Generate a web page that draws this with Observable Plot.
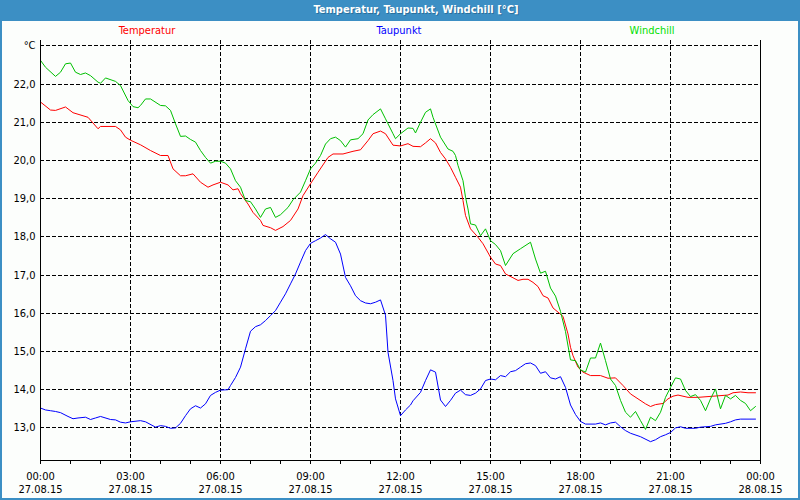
<!DOCTYPE html>
<html>
<head>
<meta charset="utf-8">
<script src="https://cdn.jsdelivr.net/npm/d3@7"></script>
<script src="https://cdn.jsdelivr.net/npm/@observablehq/plot@0.6"></script>
<style>
  html, body { margin: 0; padding: 0; background: #3c8fc4; }
  #frame { position: relative; width: 800px; height: 500px; background: #3c8fc4; overflow: hidden; font-family: "DejaVu Sans", Verdana, sans-serif; }
  #panel { position: absolute; left: 2px; top: 21px; width: 796px; height: 477px; background: #fcfefc; }
  #title { position: absolute; top: 3px; left: 416px; transform: translateX(-50%); color: #fff; font-weight: bold; font-size: 11px; font-stretch: condensed; white-space: nowrap; text-shadow: 1px 1px 0 #2a6f9c; }
  .leg { position: absolute; top: 24px; transform: translateX(-50%); font-size: 11px; font-stretch: condensed; white-space: nowrap; }
  #chart { position: absolute; left: 0; top: 0; }
  #chart svg text { font-stretch: condensed; }
</style>
</head>
<body>
<div id="frame">
  <div id="panel"></div>
  <div id="title"></div>
  <div id="legend"></div>
  <div id="chart"></div>
</div>
<script>
// ---- Data (time in minutes since 27.08.15 00:00, values in °C) ----
const titleText = "Temperatur, Taupunkt, Windchill [°C]";
const seriesNames = ["Temperatur", "Taupunkt", "Windchill"];
const seriesColors = ["#ff0000", "#0000ff", "#00c000"];
const legendColors = ["#ff0000", "#0000ff", "#00e000"];

const temperatur = [
  [0,21.53],[20,21.32],[30,21.31],[50,21.40],[65,21.25],[95,21.13],[115,20.83],[120,20.89],[150,20.89],[160,20.80],
  [170,20.61],[180,20.53],[200,20.41],[220,20.26],[240,20.13],[255,20.13],[265,19.78],[280,19.60],[290,19.60],[305,19.65],
  [320,19.43],[335,19.30],[345,19.36],[360,19.43],[375,19.36],[385,19.23],[395,19.26],[400,19.13],[415,18.86],[425,18.64],
  [440,18.43],[445,18.30],[460,18.24],[470,18.17],[485,18.27],[500,18.43],[515,18.73],[525,19.08],[540,19.39],[555,19.69],
  [575,20.08],[585,20.17],[605,20.17],[625,20.24],[640,20.28],[655,20.52],[665,20.70],[680,20.77],[690,20.70],[705,20.40],
  [720,20.38],[735,20.44],[745,20.37],[760,20.36],[770,20.46],[780,20.57],[790,20.46],[800,20.21],[810,20.04],[820,19.82],
  [830,19.56],[840,19.30],[845,18.95],[850,18.56],[860,18.21],[875,17.99],[885,17.82],[900,17.47],[910,17.29],[920,17.25],
  [930,17.03],[945,16.93],[955,16.86],[965,16.89],[975,16.89],[985,16.81],[995,16.70],[1005,16.46],[1015,16.40],[1025,16.14],
  [1035,16.03],[1045,15.92],[1055,15.46],[1060,15.11],[1065,14.89],[1075,14.59],[1085,14.46],[1100,14.37],[1120,14.37],[1135,14.30],
  [1150,14.31],[1165,14.11],[1180,13.89],[1195,13.76],[1210,13.63],[1220,13.56],[1230,13.61],[1245,13.64],[1255,13.76],[1265,13.83],
  [1275,13.86],[1295,13.80],[1315,13.80],[1335,13.82],[1355,13.84],[1375,13.86],[1385,13.92],[1400,13.94],[1415,13.92],[1430,13.92]
];

const taupunkt = [
  [0,13.52],[10,13.47],[20,13.45],[30,13.43],[40,13.40],[55,13.30],[65,13.24],[75,13.26],[90,13.28],[100,13.22],
  [110,13.26],[120,13.30],[140,13.22],[150,13.21],[160,13.15],[170,13.13],[180,13.16],[200,13.19],[210,13.16],[230,13.02],
  [240,13.06],[250,13.04],[260,12.99],[270,13.00],[280,13.12],[290,13.32],[300,13.50],[310,13.58],[320,13.52],[330,13.63],
  [340,13.85],[350,13.93],[360,13.99],[375,14.00],[380,14.11],[390,14.32],[400,14.59],[410,15.07],[420,15.53],[430,15.65],
  [440,15.70],[450,15.81],[460,15.94],[470,16.07],[480,16.29],[490,16.51],[500,16.77],[510,17.03],[520,17.34],[530,17.64],
  [540,17.83],[550,17.90],[560,17.97],[570,18.06],[580,17.95],[590,17.86],[600,17.55],[610,16.94],[620,16.72],[630,16.46],
  [640,16.33],[650,16.27],[660,16.25],[670,16.29],[680,16.35],[690,15.95],[695,14.98],[705,14.24],[710,13.76],[720,13.32],
  [730,13.47],[740,13.60],[745,13.71],[760,13.93],[770,14.24],[780,14.52],[790,14.46],[800,13.73],[810,13.56],[820,13.72],
  [830,13.91],[840,13.99],[850,13.87],[860,13.85],[870,13.91],[880,14.02],[890,14.24],[900,14.28],[910,14.26],[920,14.37],
  [930,14.34],[940,14.47],[950,14.50],[960,14.59],[970,14.68],[980,14.70],[990,14.63],[1000,14.43],[1010,14.47],[1020,14.31],
  [1030,14.28],[1040,14.34],[1050,14.06],[1060,13.60],[1070,13.35],[1080,13.17],[1090,13.10],[1110,13.10],[1120,13.13],[1130,13.08],
  [1140,13.13],[1150,13.15],[1160,13.03],[1170,12.93],[1180,12.86],[1200,12.77],[1220,12.64],[1230,12.69],[1240,12.77],[1250,12.82],
  [1260,12.88],[1270,13.00],[1280,13.03],[1290,12.99],[1310,12.99],[1320,13.02],[1340,13.04],[1350,13.08],[1370,13.12],[1380,13.16],
  [1390,13.21],[1400,13.23],[1430,13.23]
];

const windchill = [
  [0,22.62],[10,22.44],[30,22.20],[40,22.31],[50,22.53],[60,22.55],[70,22.31],[80,22.25],[90,22.29],[100,22.22],
  [115,22.05],[120,22.02],[130,22.16],[150,22.07],[160,21.96],[175,21.57],[185,21.41],[195,21.38],[200,21.44],[210,21.61],
  [220,21.61],[240,21.44],[250,21.43],[260,21.31],[270,20.96],[280,20.63],[290,20.64],[300,20.55],[310,20.48],[320,20.26],
  [330,20.08],[340,19.93],[350,19.98],[360,19.98],[370,19.93],[380,19.78],[390,19.47],[400,19.30],[410,18.95],[420,18.92],
  [430,18.73],[440,18.51],[450,18.73],[460,18.77],[470,18.51],[480,18.58],[495,18.77],[505,18.97],[520,19.17],[530,19.47],
  [540,19.78],[550,19.93],[560,20.13],[570,20.43],[580,20.57],[590,20.61],[600,20.52],[610,20.35],[620,20.54],[635,20.57],
  [645,20.70],[655,21.06],[665,21.20],[680,21.35],[690,21.09],[705,20.70],[710,20.57],[720,20.70],[735,20.85],[745,20.84],
  [750,20.72],[760,21.00],[770,21.26],[780,21.35],[785,21.13],[800,20.61],[815,20.30],[825,20.24],[830,20.13],[835,19.87],
  [845,19.47],[850,19.04],[855,18.73],[860,18.34],[870,18.31],[880,18.03],[890,18.21],[900,17.90],[910,17.80],[920,17.64],
  [930,17.25],[945,17.56],[960,17.69],[980,17.86],[990,17.42],[1000,17.05],[1010,17.10],[1020,16.66],[1030,16.45],[1040,16.05],
  [1050,15.52],[1060,14.78],[1070,14.76],[1080,14.52],[1090,14.46],[1100,14.83],[1110,14.83],[1120,15.22],[1130,14.76],[1140,14.28],
  [1150,14.11],[1160,13.72],[1170,13.41],[1180,13.28],[1190,13.43],[1200,13.19],[1210,12.96],[1220,13.28],[1230,13.19],[1240,13.41],
  [1250,13.80],[1260,14.06],[1270,14.31],[1280,14.28],[1290,13.98],[1300,13.82],[1310,13.87],[1320,13.72],[1330,13.45],[1340,13.76],
  [1350,14.02],[1360,13.50],[1370,13.85],[1380,13.76],[1390,13.85],[1400,13.72],[1410,13.64],[1420,13.45],[1430,13.56]
];

const yTicks = [13, 14, 15, 16, 17, 18, 19, 20, 21, 22, 23];
const yTickLabels = ["13,0", "14,0", "15,0", "16,0", "17,0", "18,0", "19,0", "20,0", "21,0", "22,0", "°C"];
const yDomain = [12.147, 23.14];
const xDomain = [0, 1440];
const xMajorTicks = [0, 180, 360, 540, 720, 900, 1080, 1260, 1440];
const xTickLabels = ["00:00\n27.08.15", "03:00\n27.08.15", "06:00\n27.08.15", "09:00\n27.08.15", "12:00\n27.08.15",
                     "15:00\n27.08.15", "18:00\n27.08.15", "21:00\n27.08.15", "00:00\n28.08.15"];
const xMinorTicks = d3.range(0, 1441, 60);
const xGrid = [180, 360, 540, 720, 900, 1080, 1260];

// ---- HTML title and legend ----
document.getElementById("title").textContent = titleText;
const legendPos = [147, 399, 652];
const legend = document.getElementById("legend");
seriesNames.forEach((n, i) => {
  const s = document.createElement("div");
  s.className = "leg";
  s.style.left = legendPos[i] + "px";
  s.style.color = legendColors[i];
  s.textContent = n;
  legend.appendChild(s);
});

const rows = (arr) => arr.map(([t, v]) => ({t, v}));
const dash = "4,2";

const chart = Plot.plot({
  width: 800,
  height: 500,
  marginLeft: 40,
  marginRight: 40,
  marginTop: 40,
  marginBottom: 40,
  style: { background: "transparent", fontFamily: "'DejaVu Sans', Verdana, sans-serif", fontSize: "11px", color: "#000" },
  x: { domain: xDomain, axis: null },
  y: { domain: yDomain, axis: null },
  marks: [
    Plot.gridY(yTicks, { stroke: "#000", strokeOpacity: 1, strokeDasharray: dash, shapeRendering: "crispEdges" }),
    Plot.gridX(xGrid, { stroke: "#000", strokeOpacity: 1, strokeDasharray: dash, shapeRendering: "crispEdges" }),
    Plot.line(rows(temperatur), { x: "t", y: "v", stroke: seriesColors[0], strokeWidth: 1 }),
    Plot.line(rows(taupunkt), { x: "t", y: "v", stroke: seriesColors[1], strokeWidth: 1 }),
    Plot.line(rows(windchill), { x: "t", y: "v", stroke: seriesColors[2], strokeWidth: 1 }),
    Plot.ruleX(xDomain, { stroke: "#000", shapeRendering: "crispEdges" }),
    Plot.ruleY([yDomain[0]], { stroke: "#000", shapeRendering: "crispEdges" }),
    Plot.axisY(yTicks, { label: null, tickSize: 0, tickPadding: 5, tickFormat: (d, i) => yTickLabels[i], fontSize: 11, fill: "#000" }),
    Plot.axisX(xMinorTicks, { label: null, tickSize: 4, tickFormat: () => "", stroke: "#000", shapeRendering: "crispEdges" }),
    Plot.axisX(xMajorTicks, { label: null, tickSize: 4, tickPadding: 6, tickFormat: (d, i) => xTickLabels[i], fontSize: 11, fill: "#000", lineHeight: 1.2 })
  ]
});
document.getElementById("chart").appendChild(chart);
</script>
</body>
</html>
